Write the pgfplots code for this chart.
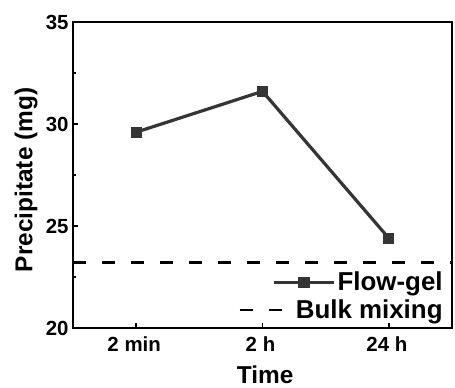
\documentclass[border=0pt]{standalone}
\usepackage{fontspec}
\setmainfont{Liberation Sans}
\usepackage{pgfplots}
\pgfplotsset{compat=1.18}
\usetikzlibrary{calc}
\definecolor{lineg}{HTML}{353535}
\begin{document}
\begin{tikzpicture}
\begin{axis}[
  name=ax,
  scale only axis,
  width=379bp, height=306bp,
  xmin=-0.5, xmax=2.5,
  ymin=20, ymax=35,
  xtick={0,1,2},
  xticklabels={2 min,2 h,24 h},
  ytick={20,25,30,35},
  minor ytick={22.5,27.5,32.5},
  tick align=inside,
  tick pos=left,
  major tick length=5bp,
  minor tick length=3bp,
  axis line style={line width=2bp},
  every tick/.style={line width=1.6bp, black},
  /pgf/number format/assume math mode=true,
  ticklabel style={font=\fontsize{20.5}{24}\selectfont\bfseries},
  xticklabel style={anchor=base, yshift=-23bp, xshift=-2bp},
  yticklabel style={xshift=-1bp},
  label style={font=\fontsize{24.5}{28}\selectfont\bfseries},
  xlabel={Time},
  ylabel={Precipitate (mg)},
  xlabel style={at={(rel axis cs:0.507,-0.180)}, anchor=base},
  ylabel style={at={(rel axis cs:-0.124,0.484)}, anchor=center},
  legend style={at={(0.981,0.150)}, anchor=east, draw=none, fill=none,
    inner sep=0pt, font=\fontsize{26}{30}\selectfont\bfseries},
  legend image code/.code={\draw[mark repeat=2,mark phase=2] plot coordinates {(0bp,0bp)(30bp,0bp)(60bp,0bp)};},
]
\addplot[color=lineg, line width=3.2bp, mark=square*, mark size=4bp, mark options={solid}]
  coordinates {(0,29.6) (1,31.6) (2,24.4)};
\addlegendentry{Flow-gel}
\addplot[black, line width=2.6bp, dash pattern=on 13bp off 16bp, forget plot]
  coordinates {(-0.5,23.2) (2.5,23.2)};
\end{axis}
\begin{axis}[
  scale only axis,
  width=379bp, height=306bp,
  xmin=-0.5, xmax=2.5, ymin=20, ymax=35,
  hide axis,
  legend style={at={(0.981,0.059)}, anchor=east, draw=none, fill=none,
    inner sep=0pt, font=\fontsize{26}{30}\selectfont\bfseries,
    /tikz/every odd column/.append style={column sep=8bp}},
  legend image code/.code={\draw plot coordinates {(0bp,0bp)(45bp,0bp)};},
]
\addlegendimage{black, line width=2.6bp, dash pattern=on 13bp off 16bp}
\addlegendentry{Bulk mixing}
\end{axis}
\pgfresetboundingbox
\path[use as bounding box] ($(ax.south west)+(-73bp,-60bp)$) rectangle ($(ax.north east)+(3bp,22bp)$);
\end{tikzpicture}
\end{document}
